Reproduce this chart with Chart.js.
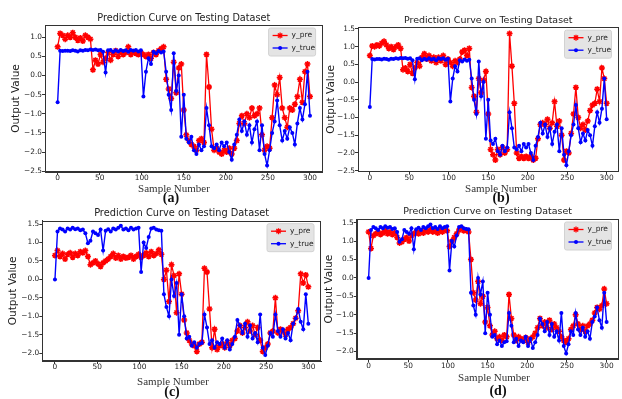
<!DOCTYPE html>
<html>
<head>
<meta charset="utf-8">
<script src="https://cdn.jsdelivr.net/npm/chart.js@4.4.0/dist/chart.umd.min.js"></script>
<style>
html, body { margin: 0; padding: 0; background: #fff; overflow: hidden; }
#fig { position: relative; width: 622px; height: 399px; overflow: hidden; background: #fff; }
canvas { position: absolute; }
.xl { position: absolute; font-family: 'Liberation Serif', serif; font-size: 11px; color: #333; transform: translate(-50%, -50%); white-space: nowrap; }
.tag { position: absolute; font-family: 'Liberation Serif', serif; font-weight: bold; font-size: 14px; color: #111; transform: translate(-50%, -50%); }
</style>
</head>
<body>
<div id="fig">
  <canvas id="pa" width="330" height="200" style="left:0;top:0"></canvas>
  <canvas id="pb" width="311" height="200" style="left:313px;top:0"></canvas>
  <canvas id="pc" width="330" height="199" style="left:0;top:200px"></canvas>
  <canvas id="pd" width="311" height="199" style="left:313px;top:200px"></canvas>
  <div class="xl" style="left:174px;top:188px">Sample Number</div>
  <div class="xl" style="left:501px;top:188px">Sample Number</div>
  <div class="xl" style="left:173px;top:381px">Sample Number</div>
  <div class="xl" style="left:494px;top:377px">Sample Number</div>
  <div class="tag" style="left:171px;top:198px">(a)</div>
  <div class="tag" style="left:501px;top:198px">(b)</div>
  <div class="tag" style="left:172px;top:392px">(c)</div>
  <div class="tag" style="left:498px;top:391px">(d)</div>
</div>
<script>
// sample numbers read every 3rd test sample
var samples = [];
for (var s = 0; s <= 300; s += 3) samples.push(s);

var seriesNames = ['y_pre', 'y_true'];

// true values, panels (a) and (b)
var trueAB = [
  -0.70, 0.65, 0.64, 0.65, 0.65, 0.64, 0.66, 0.65, 0.63, 0.66,
  0.65, 0.67, 0.66, 0.68, 0.67, 0.68, 0.66, 0.67, 0.62, 0.08,
  0.66, 0.67, 0.62, 0.66, 0.63, 0.67, 0.64, 0.66, 0.62, 0.67,
  0.65, 0.67, 0.63, 0.66, -0.55, 0.10, 0.45, 0.30, 0.62, 0.58,
  0.64, 0.60, 0.63, 0.10, -0.50, -0.90, 0.58, -0.40, 0.00, -1.60,
  -0.50, -1.65, -1.75, -1.60, -1.95, -2.05, -1.80, -1.95, -1.85, -0.85,
  -1.30, -1.85, -1.90, -1.80, -1.95, -1.75, -1.85, -1.75, -2.00, -2.20,
  -1.80, -1.55, -1.15, -1.45, -1.20, -1.55, -1.30, -1.75, -1.40, -1.20,
  -1.95, -1.30, -2.05, -2.35, -1.95, -1.50, -1.20, -0.65, -1.30, -1.70,
  -1.45, -1.65, -1.35, -1.50, -1.80, -1.25, -0.85, -1.15, -0.75, 0.10,
  -1.05
];

var predA = [
  0.75, 1.10, 1.05, 0.95, 1.05, 1.00, 1.12, 1.00, 0.92, 0.98,
  0.90, 1.05, 1.00, 0.95, 0.15, 0.40, 0.30, 0.55, 0.35, 0.45,
  0.60, 0.40, 0.55, 0.65, 0.50, 0.62, 0.55, 0.60, 0.75, 0.55,
  0.62, 0.58, 0.55, 0.60, 0.55, 0.50, 0.55, 0.45, 0.60, 0.55,
  0.65, 0.70, 0.75, -0.10, -0.35, -0.60, 0.35, -0.45, 0.20, 0.30,
  -0.90, -1.55, -1.70, -1.80, -1.85, -1.95, -1.70, -1.65, -1.75, 0.55,
  -0.30, -1.40, -1.95, -1.90, -2.00, -2.05, -1.95, -2.00, -1.90, -2.05,
  -1.90, -1.70, -1.25, -1.05, -1.25, -1.00, -1.10, -0.85, -1.05, -1.00,
  -0.85, -1.55, -1.95, -1.85, -1.90, -1.10, -0.25, -0.50, -0.05, -0.85,
  -1.10, -1.35, -0.85, -0.90, -0.75, -0.55, -0.10, -0.70, 0.10, 0.30,
  -0.55
];

var predB = [
  0.75, 1.02, 1.00, 1.05, 1.02, 1.10, 1.15, 1.05, 0.95, 1.00,
  0.92, 1.00, 1.05, 0.95, 0.35, 0.40, 0.30, 0.50, 0.25, 0.40,
  0.55, 0.45, 0.70, 0.80, 0.65, 0.75, 0.60, 0.70, 0.55, 0.70,
  0.60, 0.75, 0.50, 0.65, 0.55, 0.45, 0.60, 0.55, 0.65, 0.85,
  0.90, 0.75, 0.95, -0.15, -0.40, -0.85, 0.10, -0.30, 0.05, 0.30,
  -0.90, -1.90, -2.05, -2.20, -1.90, -2.05, -1.85, -2.00, -1.90, 1.37,
  0.45, -0.60, -2.00, -2.15, -2.10, -2.15, -2.10, -2.15, -2.10, -2.20,
  -2.15, -1.60, -1.20, -1.15, -1.20, -1.05, -1.30, -1.15, -0.55, -1.25,
  -1.10, -1.50, -2.20, -1.95, -2.00, -1.45, -0.90, -0.15, -1.00, -1.30,
  -1.20, -1.35, -1.10, -0.80, -0.65, -0.60, -0.20, -0.55, 0.40, 0.10,
  -0.60
];

// true values, panels (c) and (d)
var trueCD = [
  0.00, 1.30, 1.38, 1.35, 1.30, 1.38, 1.35, 1.40, 1.36, 1.38,
  1.33, 1.35, 1.25, 0.98, 1.05, 1.30, 1.25, 1.20, 1.35, 0.78,
  1.32, 1.36, 1.30, 1.38, 1.35, 1.40, 1.45, 1.35, 1.38, 1.33,
  1.40, 1.35, 1.38, 1.40, 0.20, 1.00, 0.85, 1.15, 1.38, 1.40,
  1.35, 1.33, 1.32, -0.40, -0.75, -1.00, 0.00, -0.45, -0.10, -1.50,
  -0.40, -1.00, -1.60, -1.55, -1.80, -1.70, -1.85, -1.75, -1.72, -0.95,
  -1.30, -1.75, -1.65, -1.85, -1.70, -1.75, -1.60, -1.85, -1.65, -1.90,
  -1.75, -1.55, -1.10, -1.25, -1.45, -1.20, -1.55, -1.25, -1.60, -1.45,
  -1.70, -0.95, -1.85, -2.05, -1.80, -1.45, -1.55, -0.95, -1.40, -1.55,
  -1.35, -1.60, -1.45, -1.65, -1.20, -1.05, -0.80, -1.15, -1.35, -0.40,
  -1.20
];

var predC = [
  0.65, 0.78, 0.62, 0.70, 0.55, 0.68, 0.72, 0.60, 0.70, 0.65,
  0.75, 0.72, 0.78, 0.62, 0.40, 0.45, 0.50, 0.42, 0.35, 0.45,
  0.50, 0.55, 0.62, 0.70, 0.58, 0.65, 0.55, 0.62, 0.58, 0.60,
  0.65, 0.55, 0.62, 0.68, 0.60, 0.65, 0.72, 0.62, 0.75, 0.65,
  0.70, 0.80, 0.68, 0.00, 0.25, -0.60, 0.40, 0.10, -0.90, 0.15,
  -0.40, -1.10, -1.45, -1.65, -1.75, -1.80, -1.95, -1.75, -1.70, 0.30,
  0.20, -0.80, -1.85, -1.35, -1.90, -1.80, -1.75, -1.85, -1.70, -1.80,
  -1.65, -1.60, -1.40, -1.25, -1.45, -1.30, -1.15, -1.40, -1.25, -1.50,
  -1.30, -1.65, -1.95, -1.85, -1.75, -1.45, -1.40, -0.50, -1.45, -1.35,
  -1.40, -1.50, -1.35, -1.30, -1.20, -1.05, -0.85, 0.15, -0.10, 0.12,
  -0.20
];

var predD = [
  1.25, 0.80, 1.15, 1.20, 1.25, 1.18, 1.22, 1.28, 1.20, 1.25,
  1.18, 1.22, 1.10, 0.95, 0.98, 1.05, 1.10, 1.00, 1.15, 1.20,
  1.25, 1.20, 1.28, 1.22, 1.30, 1.25, 1.32, 1.25, 1.28, 1.22,
  1.30, 1.25, 1.32, 1.28, 0.85, 1.00, 1.10, 1.20, 1.30, 1.35,
  1.28, 1.30, 1.25, 0.50, -0.40, -0.60, -0.10, -0.70, -0.50, -1.20,
  -0.80, -1.30, -1.55, -1.45, -1.65, -1.60, -1.70, -1.55, -1.60, -0.45,
  -1.10, -1.55, -1.70, -1.60, -1.65, -1.70, -1.62, -1.75, -1.65, -1.60,
  -1.50, -1.35, -1.10, -1.30, -1.20, -1.35, -1.15, -1.40, -1.25, -1.35,
  -1.45, -1.60, -1.70, -1.75, -1.65, -1.40, -1.30, -1.00, -1.25, -1.40,
  -1.30, -1.45, -1.30, -1.25, -1.15, -0.95, -0.80, -0.85, -0.75, -0.30,
  -0.70
];

Chart.defaults.font.family = "'DejaVu Sans', sans-serif";
Chart.defaults.color = '#262626';

function pts(vals) {
  return samples.map(function (x, i) { return { x: x, y: vals[i] }; });
}

function drawStar(ctx, x, y, r) {
  ctx.beginPath();
  for (var k = 0; k < 4; k++) {
    var a = k * Math.PI / 4;
    ctx.moveTo(x - Math.cos(a) * r, y - Math.sin(a) * r);
    ctx.lineTo(x + Math.cos(a) * r, y + Math.sin(a) * r);
  }
  ctx.stroke();
}

// spines, title and the boxed legend like matplotlib
var framePlugin = {
  id: 'frame',
  afterDraw: function (chart, args, opts) {
    var ctx = chart.ctx, a = chart.chartArea;
    ctx.save();
    ctx.strokeStyle = '#333';
    ctx.lineWidth = 1;
    ctx.strokeRect(Math.round(a.left) + 0.5, Math.round(a.top) + 0.5,
      Math.round(a.right - a.left) - 1, Math.round(a.bottom - a.top) - 1);

    ctx.fillStyle = '#222';
    ctx.font = opts.titleSize + "px 'DejaVu Sans'";
    ctx.textAlign = 'center';
    ctx.textBaseline = 'middle';
    ctx.fillText(opts.title, (a.left + a.right) / 2, a.top - 7);

    var bw = 47, bh = 28;
    var bx = a.right - 7 - bw, by = a.top + 3;
    ctx.fillStyle = 'rgba(226,226,226,0.92)';
    ctx.strokeStyle = '#d2d2d2';
    ctx.beginPath();
    ctx.roundRect(bx, by, bw, bh, 2);
    ctx.fill();
    ctx.stroke();

    ctx.font = "7.5px 'DejaVu Sans'";
    ctx.textAlign = 'left';
    chart.data.datasets.forEach(function (ds, i) {
      var ly = by + 7.5 + i * 12.5;
      ctx.strokeStyle = ds.borderColor;
      ctx.fillStyle = ds.borderColor;
      ctx.lineWidth = 1.3;
      ctx.beginPath();
      ctx.moveTo(bx + 4, ly);
      ctx.lineTo(bx + 19, ly);
      ctx.stroke();
      if (ds.pointStyle === 'star') {
        drawStar(ctx, bx + 11.5, ly, 3);
      } else {
        ctx.beginPath();
        ctx.arc(bx + 11.5, ly, 2, 0, Math.PI * 2);
        ctx.fill();
      }
      ctx.fillStyle = '#222';
      ctx.fillText(ds.label, bx + 23, ly);
    });
    ctx.restore();
  }
};

function makePanel(id, pred, truth, cfg) {
  new Chart(document.getElementById(id), {
    type: 'line',
    data: {
      datasets: [
        {
          label: seriesNames[0],
          data: pts(pred),
          borderColor: '#ff0000',
          backgroundColor: '#ff0000',
          borderWidth: 1.3,
          pointStyle: 'star',
          pointRadius: 3,
          pointBorderWidth: 1.5,
          order: 1
        },
        {
          label: seriesNames[1],
          data: pts(truth),
          borderColor: '#0000ff',
          backgroundColor: '#0000ff',
          borderWidth: 1.4,
          pointStyle: 'circle',
          pointRadius: 2,
          pointBorderWidth: 0,
          order: 0
        }
      ]
    },
    options: {
      responsive: false,
      animation: false,
      events: [],
      layout: { padding: { top: cfg.padTop, right: cfg.padRight, left: 0, bottom: 0 } },
      plugins: {
        legend: { display: false },
        tooltip: { enabled: false },
        frame: { title: 'Prediction Curve on Testing Dataset', titleSize: cfg.titleSize }
      },
      scales: {
        x: {
          type: 'linear',
          min: -15,
          max: 315,
          grid: { drawOnChartArea: false, drawTicks: true, tickLength: 3, color: '#333' },
          border: { display: true, color: '#333' },
          ticks: { stepSize: 50, includeBounds: false, autoSkip: false, maxRotation: 0, padding: -1, font: { size: 7.4 } },
          afterFit: function (sc) { sc.height = cfg.xH; }
        },
        y: {
          type: 'linear',
          min: cfg.yMin,
          max: cfg.yMax,
          grid: { drawOnChartArea: false, drawTicks: true, tickLength: 3, color: '#333' },
          border: { display: true, color: '#333' },
          ticks: {
            stepSize: 0.5, includeBounds: false, autoSkip: false, padding: 0, font: { size: 7.4 },
            callback: function (v) { return v.toFixed(1).replace('-', '\u2212'); }
          },
          title: { display: true, text: 'Output Value', font: { size: 10.5 }, color: '#222', padding: { top: cfg.ytPad, bottom: 0 } },
          afterFit: function (sc) { sc.width = cfg.yW; }
        }
      }
    },
    plugins: [framePlugin]
  });
}

makePanel('pa', predA, trueAB, { padTop: 25, padRight: 7.4, xH: 28, yW: 45, yMin: -2.52, yMax: 1.32, titleSize: 9.7, ytPad: 10.4 });
makePanel('pb', predB, trueAB, { padTop: 27.2, padRight: 0, xH: 28.3, yW: 45, yMin: -2.53, yMax: 1.55, titleSize: 9.45, ytPad: 11.5 });
makePanel('pc', predC, trueCD, { padTop: 20.7, padRight: 9, xH: 38, yW: 42.3, yMin: -2.21, yMax: 1.59, titleSize: 9.8, ytPad: 7 });
makePanel('pd', predD, trueCD, { padTop: 19, padRight: 0.7, xH: 39.7, yW: 43.7, yMin: -2.21, yMax: 1.60, titleSize: 9.45, ytPad: 9.7 });
</script>
</body>
</html>
